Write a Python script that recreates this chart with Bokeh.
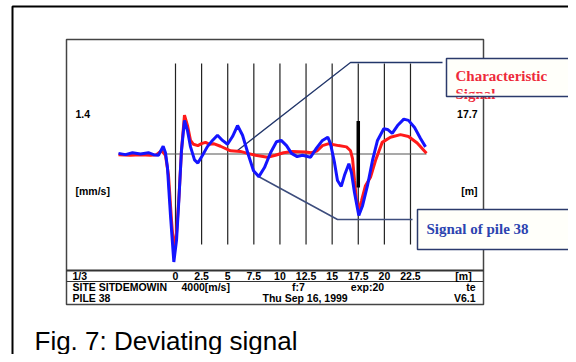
from bokeh.plotting import figure
from bokeh.models import Range1d
from bokeh.core.properties import value
from bokeh.embed import file_html
from bokeh.resources import INLINE

# ---------------- data ----------------
pile_x = [-5.46, -4.79, -4.12, -3.35, -2.59, -2.11, -1.63, -1.18, -0.96, -0.77, -0.48, -0.16,
          0.10, 0.32, 0.57, 0.86, 1.15, 1.44, 1.82, 2.14, 2.59, 3.04, 3.54, 4.02, 4.50, 4.98,
          5.46, 5.94, 6.42, 6.99, 7.47, 7.98, 8.52, 9.10, 9.67, 10.12, 10.63, 11.11, 11.65,
          12.16, 12.93, 13.50, 14.07, 14.58, 14.84, 15.22, 15.51, 15.87, 16.18, 16.60, 16.85,
          17.14, 17.55, 17.91, 18.38, 18.86, 19.34, 19.94, 20.30, 20.75, 21.26, 21.86, 22.31,
          22.89, 23.46, 23.94]
pile_v = [0.01, -0.01, 0.02, 0.00, 0.02, -0.01, -0.02, 0.12, 0.02, -0.21, -0.95, -1.67,
          -1.33, -0.72, 0.05, 0.52, 0.36, 0.11, -0.09, -0.14, -0.02, 0.11, 0.21, 0.29, 0.21, 0.15,
          0.27, 0.44, 0.29, -0.02, -0.26, -0.35, -0.21, 0.02, 0.19, 0.21, 0.13, 0.01, -0.04,
          -0.02, -0.05, 0.09, 0.21, 0.26, 0.16, -0.13, -0.41, -0.50, -0.33, -0.15, -0.29,
          -0.60, -0.95, -0.80, -0.49, -0.10, 0.21, 0.39, 0.38, 0.32, 0.44, 0.54, 0.52,
          0.41, 0.24, 0.11]

char_x = [-5.46, -4.31, -3.35, -2.39, -1.82, -1.34, -0.96, -0.67, -0.38, -0.16, 0.10, 0.34,
          0.57, 0.86, 1.15, 1.44, 1.72, 2.14, 2.49, 2.87, 3.26, 3.64, 4.31, 5.27, 6.22, 6.89,
          7.66, 8.81, 9.57, 10.34, 11.20, 12.45, 13.02, 13.57, 14.07, 14.68, 15.61, 16.37,
          16.76, 16.95, 17.14, 17.33, 17.55, 17.81, 18.19, 18.67, 19.15, 19.79, 20.58, 21.54,
          22.31, 23.14, 24.03]
char_v = [-0.01, -0.02, -0.01, -0.02, -0.01, 0.05, -0.02, -0.33, -1.03, -1.47, -1.22, -0.64,
          0.05, 0.60, 0.44, 0.21, 0.15, 0.13, 0.16, 0.18, 0.15, 0.16, 0.12, 0.05, 0.04, 0.01,
          -0.02, -0.05, -0.02, 0.02, 0.04, 0.03, 0.02, 0.05, 0.13, 0.16, 0.13, 0.11,
          0.05, -0.07, -0.41, -0.72, -0.87, -0.72, -0.49, -0.36, -0.10, 0.18, 0.26, 0.30,
          0.27, 0.17, 0.01]

depth_ticks = [0, 2.5, 5, 7.5, 10, 12.5, 15, 17.5, 20, 22.5]
depth_labels = ["0", "2.5", "5", "7.5", "10", "12.5", "15", "17.5", "20", "22.5"]
marker_depth = [17.5]
marker_top = [0.51]
marker_bottom = [-0.52]

# ---------------- page geometry helpers (pixels -> data) ----------------
PX0, PXM = 175.0, 10.444   # x pixel of depth 0, pixels per metre
PY0, PYU = 153.5, 64.64    # y pixel of zero velocity, pixels per unit

def X(px):
    return (px - PX0) / PXM

def Y(py):
    return (PY0 - py) / PYU

W, H = 568, 354
p = figure(width=W, height=H, x_range=Range1d(X(0), X(W)), y_range=Range1d(Y(H), Y(0)),
           output_backend="svg", toolbar_location=None, min_border=0)
p.axis.visible = False
p.grid.visible = False
p.outline_line_color = None
p.background_fill_color = "white"
p.border_fill_color = "white"

LABEL_FONT = value("Liberation Sans")

# outer frame (left + top)
p.line([X(12), X(12), X(600)], [Y(400), Y(6), Y(6)], line_color="black", line_width=2)

# inner frame
p.quad(left=[X(66)], right=[X(483)], top=[Y(39)], bottom=[Y(304)],
       fill_color=None, line_color="#444444", line_width=1.5)
p.segment(x0=[X(66)], x1=[X(483)], y0=[Y(270)], y1=[Y(270)], line_color="#333333", line_width=2)
p.segment(x0=[X(66)], x1=[X(483)], y0=[Y(281)], y1=[Y(281)], line_color="#333333", line_width=1)

# depth grid lines
p.segment(x0=depth_ticks, x1=depth_ticks, y0=[Y(63)] * len(depth_ticks), y1=[Y(244)] * len(depth_ticks),
          line_color="#222222", line_width=1.2)
# baseline
p.segment(x0=[X(166)], x1=[X(426)], y0=[0], y1=[0], line_color="#555555", line_width=1.2)

# connector lines
p.line([X(442), X(350), X(237)], [Y(62), Y(62), Y(150)], line_color="#22366a", line_width=1.3)
p.line([X(412), X(337), X(258)], [Y(219), Y(219), Y(176)], line_color="#3d4d7d", line_width=1.5)

# signals
p.line(char_x, char_v, line_color="#ff1a1a", line_width=3)
p.line(pile_x, pile_v, line_color="#1414ff", line_width=3)
p.segment(x0=marker_depth, x1=marker_depth, y0=marker_top, y1=marker_bottom,
          line_color="black", line_width=3.5)

# labels inside chart
def txt(x, y, t, align="left", size="10.5px", font=LABEL_FONT, style="bold", color="black", baseline="middle"):
    p.text(x=[x], y=[y], text=[t], text_align=align, text_baseline=baseline, text_font=font,
           text_font_size=value(size), text_font_style=style, text_color=color)

txt(X(75), Y(113), "1.4")
txt(X(75), Y(190), "[mm/s]")
txt(X(477), Y(113), "17.7", align="right")
txt(X(477), Y(190), "[m]", align="right")

p.text(x=depth_ticks, y=[Y(275.5)] * len(depth_ticks), text=depth_labels, text_align="center",
       text_baseline="middle", text_font=LABEL_FONT, text_font_size=value("10.5px"),
       text_font_style="bold", text_color="black")
txt(X(72), Y(275.5), "1/3")
txt(X(463), Y(275.5), "[m]", align="center")
txt(X(72), Y(286.5), "SITE SITDEMOWIN")
txt(X(181), Y(286.5), "4000[m/s]")
txt(X(298), Y(286.5), "f:7", align="center")
txt(X(367), Y(286.5), "exp:20", align="center")
txt(X(475), Y(286.5), "te", align="right")
txt(X(72), Y(297.5), "PILE 38")
txt(X(262), Y(297.5), "Thu Sep 16, 1999")
txt(X(475), Y(297.5), "V6.1", align="right")

# callout boxes
SERIF = value("Liberation Serif")
p.quad(left=[X(446)], right=[X(569)], top=[Y(58)], bottom=[Y(96)],
       fill_color="#fffffa", line_color=None)
txt(X(455), Y(75.5), "Characteristic", size="15px", font=SERIF, color="#ee2a3a", baseline="alphabetic")
txt(X(455), Y(93), "Signal", size="15px", font=SERIF, color="#ee2a3a", baseline="alphabetic")
p.quad(left=[X(447)], right=[X(568)], top=[Y(93)], bottom=[Y(95.5)],
       fill_color="#fffffa", line_color=None)
p.quad(left=[X(446)], right=[X(569)], top=[Y(58)], bottom=[Y(96)],
       fill_color=None, line_color="#2b3a6b", line_width=1.5)

p.quad(left=[X(417)], right=[X(600)], top=[Y(209)], bottom=[Y(249)],
       fill_color="#fffffa", line_color="#2b3a6b", line_width=1.5)
txt(X(426), Y(228.5), "Signal of pile 38", size="15px", font=SERIF, color="#2c44b0", baseline="alphabetic")

# caption
txt(X(34), Y(340), "Fig. 7: Deviating signal", size="26px", font=value("Liberation Sans"),
    style="normal", baseline="alphabetic")

open("out.html", "w").write(file_html(p, INLINE))
